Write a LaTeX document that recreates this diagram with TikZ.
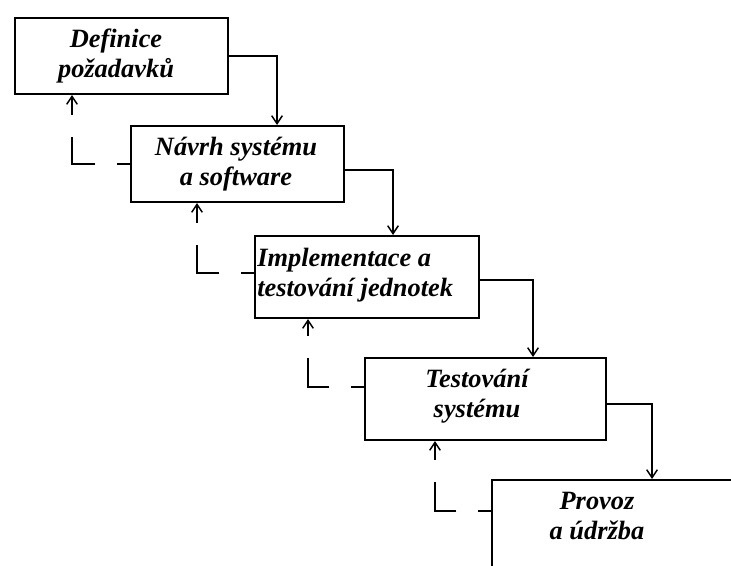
\documentclass[tikz,border=0pt]{standalone}
\usepackage{fontspec}
\setmainfont{Liberation Serif}
\usetikzlibrary{arrows.meta,fit}
\begin{document}
\begin{tikzpicture}[x=0.75pt,y=-0.75pt,
  box/.style={draw,rectangle,line width=1.5pt,inner sep=0pt},
  lbl/.style={font=\fontsize{19.8}{22.5}\selectfont\bfseries\itshape,align=center,inner sep=0pt},
  flow/.style={line width=1.1pt,-{Straight Barb[length=6pt,width=8pt,line width=1.1pt]}},
  fb/.style={flow,dash pattern=on 9.4pt off 16.5pt on 37.5pt off 17pt on 40pt}]
\useasboundingbox (0,0) rectangle (731,565);
\fill[white] (0,0) rectangle (731,565);
\clip (0,0) rectangle (731,565);

% phase boxes
\node[box,fit={(15,18) (228,94)}] (b1) {};
\node[box,fit={(131,126) (344,202)}] (b2) {};
\node[box,fit={(255,236) (479,318)}] (b3) {};
\node[box,fit={(365,358) (606,440)}] (b4) {};
\node[box,fit={(492,480) (800,640)}] (b5) {};

% phase names
\node[lbl] (t1) at (116,56) {Definice\\požadavků};
\node[lbl] (t2) at (236,164) {Návrh systému\\a software};
\node[lbl,align=left,anchor=west] (t3) at (257,275) {Implementace a\\testování jednotek};
\node[lbl] (t4) at (477,396) {Testování\\systému};
\node[lbl] (t5) at (597,516) {Provoz\\a údržba};

% corners of the forward connectors
\coordinate (c1) at (277,56);
\coordinate (c2) at (393,170);
\coordinate (c3) at (533,280);
\coordinate (c4) at (652,404);

% corners of the feedback connectors
\coordinate (f1) at (72,164);
\coordinate (f2) at (197,273);
\coordinate (f3) at (308,387);
\coordinate (f4) at (435,511);

% forward flow
\draw[flow] (b1.east |- c1) -| (b2.north -| c1);
\draw[flow] (b2.east |- c2) -| (b3.north -| c2);
\draw[flow] (b3.east |- c3) -| (b4.north -| c3);
\draw[flow] (b4.east |- c4) -| (b5.north -| c4);

% feedback to the previous phase
\draw[fb] (b2.west |- f1) -| (b1.south -| f1);
\draw[fb] (b3.west |- f2) -| (b2.south -| f2);
\draw[fb] (b4.west |- f3) -| (b3.south -| f3);
\draw[fb] (b5.west |- f4) -| (b4.south -| f4);
\end{tikzpicture}
\end{document}
